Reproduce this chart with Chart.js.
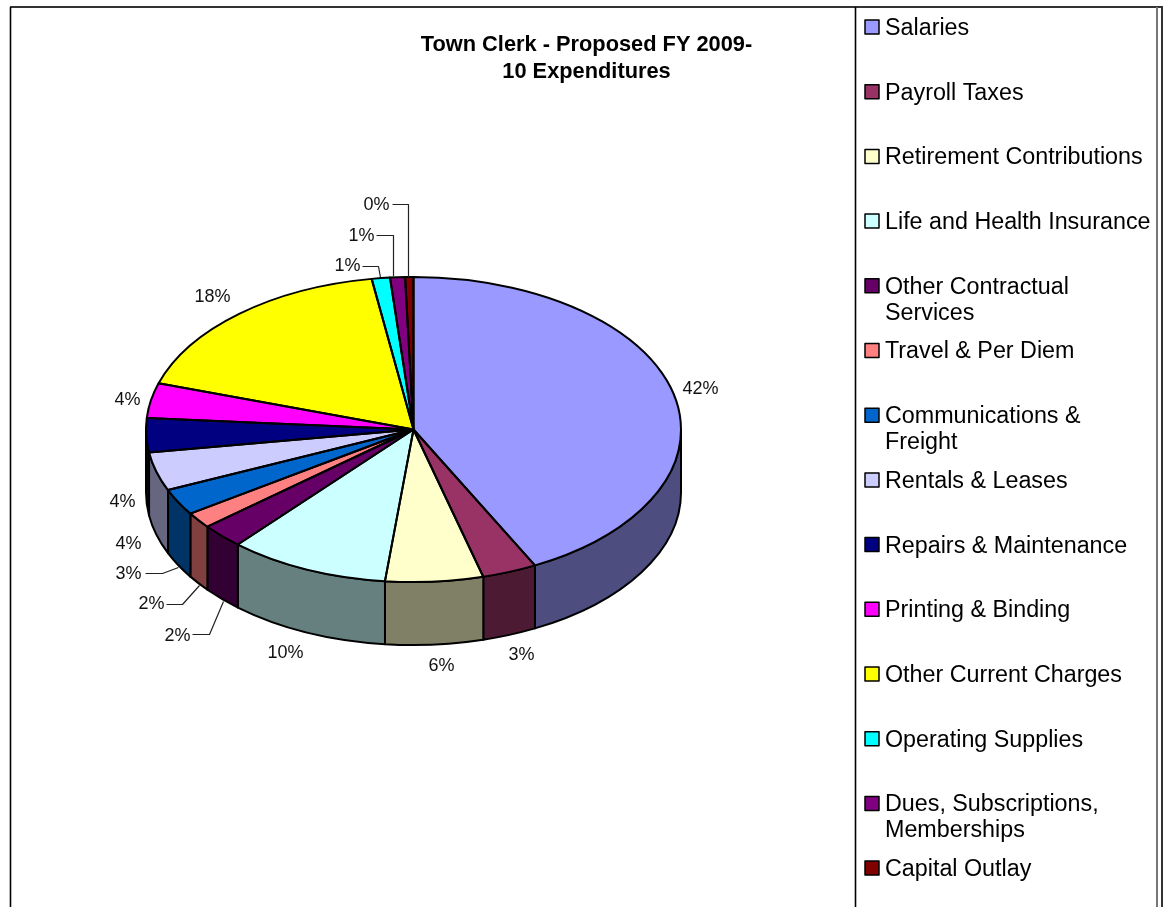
<!DOCTYPE html>
<html>
<head>
<meta charset="utf-8">
<style>html,body{margin:0;padding:0;background:#fff;overflow:hidden}canvas{display:block}</style>
<script src="https://cdn.jsdelivr.net/npm/chart.js@4"></script>
</head>
<body>
<canvas id="c" width="1170" height="907"></canvas>
<script>
// ---- data ----
const categories = [
  ["Salaries"], ["Payroll Taxes"], ["Retirement Contributions"], ["Life and Health Insurance"],
  ["Other Contractual", "Services"], ["Travel & Per Diem"], ["Communications &", "Freight"],
  ["Rentals & Leases"], ["Repairs & Maintenance"], ["Printing & Binding"], ["Other Current Charges"],
  ["Operating Supplies"], ["Dues, Subscriptions,", "Memberships"], ["Capital Outlay"]
];
const values = [42.5, 3.3, 5.9, 9.7, 2.6, 1.7, 2.8, 4.1, 3.6, 3.7, 17.6, 1.1, 0.9, 0.5];
const percentLabels = ["42%","3%","6%","10%","2%","2%","3%","4%","4%","4%","18%","1%","1%","0%"];
const titleLines = ["Town Clerk - Proposed FY 2009-", "10 Expenditures"];
const colors = ["#9999FF","#993366","#FFFFCC","#CCFFFF","#660066","#FF8080","#0066CC","#CCCCFF","#000080","#FF00FF","#FFFF00","#00FFFF","#800080","#800000"];

// ---- layout / style ----
const FONT = '"Liberation Sans", Arial, sans-serif';
const RX = 267.5, RY = 152.5, DEPTH = 63;
const labelPos = [[700.5,389.5],[521.5,655.5],[441.5,666.5],[285.5,653.5],[177.5,636.5],[151.5,604.5],[128.5,574.5],[128.5,544.5],[122.5,502.5],[127.5,400.5],[212.5,297.5],[347.5,266.5],[361.5,236.5],[376.5,205.5]];
const leaders = [
  [[192,634],[209,634],[223,601]],
  [[166,604],[182,604],[199,585]],
  [[145,573],[162,573],[178,567]],
  [[362,266],[378,266],[380,277]],
  [[376,235],[393,235],[393,276]],
  [[392,204],[408,204],[408,277]]
];
function darken(hex){
  const n = parseInt(hex.slice(1),16);
  const f = v => Math.round(v/2).toString(16).padStart(2,'0');
  return '#'+f(n>>16&255)+f(n>>8&255)+f(n&255);
}

const pie3d = {
  id:'pie3d',
  afterLayout(chart){
    // centre the title over the whole canvas, not only over the padded plot area
    chart.titleBlock.left = 2; chart.titleBlock.right = 1171;
  },
  beforeDraw(chart){
    const c = chart.ctx;
    c.save();
    c.strokeStyle='#333'; c.lineWidth=2;
    c.beginPath(); c.moveTo(10,7); c.lineTo(1163,7); c.stroke();
    c.strokeStyle='#000'; c.lineWidth=1.6;
    c.beginPath(); c.moveTo(10.5,7); c.lineTo(10.5,907);
    c.moveTo(855.5,7); c.lineTo(855.5,907); c.stroke();
    c.strokeStyle='#777'; c.lineWidth=2;
    c.beginPath(); c.moveTo(1157,7); c.lineTo(1157,907); c.stroke();
    c.strokeStyle='#333'; c.lineWidth=2;
    c.beginPath(); c.moveTo(1162,7); c.lineTo(1162,907); c.stroke();
    c.restore();
  },
  beforeDatasetsDraw(chart){
    const c = chart.ctx, arcs = chart.getDatasetMeta(0).data;
    const cx = arcs[0].x, cy = arcs[0].y, rx = arcs[0].outerRadius, ry = rx*RY/RX;
    c.save();
    c.lineWidth = 2; c.strokeStyle = '#000'; c.lineJoin='round';
    arcs.forEach((a,i)=>{
      const lo = Math.max(a.startAngle,0), hi = Math.min(a.endAngle,Math.PI);
      if(lo>=hi) return;
      c.beginPath();
      c.ellipse(cx,cy,rx,ry,0,lo,hi);
      c.ellipse(cx,cy+DEPTH,rx,ry,0,hi,lo,true);
      c.closePath();
      c.fillStyle = darken(colors[i]);
      c.fill(); c.stroke();
    });
    c.restore();
    c.save();
    c.translate(cx,cy); c.scale(1,ry/rx); c.translate(-cx,-cy);
  },
  afterDatasetsDraw(chart){
    const c = chart.ctx, arcs = chart.getDatasetMeta(0).data;
    c.restore();
    const cx = arcs[0].x, cy = arcs[0].y, rx = arcs[0].outerRadius, ry = rx*RY/RX;
    c.save();
    c.lineWidth = 2; c.strokeStyle='#000'; c.lineJoin='round';
    arcs.forEach(a=>{
      c.beginPath(); c.moveTo(cx,cy);
      c.ellipse(cx,cy,rx,ry,0,a.startAngle,a.endAngle);
      c.closePath(); c.stroke();
    });
    // leader lines
    c.lineWidth = 1.2; c.strokeStyle='#222';
    leaders.forEach(p=>{
      c.beginPath();
      p.forEach((q,j)=> j? c.lineTo(q[0]+.5,q[1]+.5):c.moveTo(q[0]+.5,q[1]+.5));
      c.stroke();
    });
    // percentage labels
    c.fillStyle='#111'; c.font='18px '+FONT; c.textAlign='center'; c.textBaseline='middle';
    percentLabels.forEach((t,i)=>c.fillText(t,labelPos[i][0],labelPos[i][1]));
    // legend
    c.textAlign='left'; c.font='23.3px '+FONT;
    categories.forEach((lines,i)=>{
      const y = 27 + 64.7*i;
      c.fillStyle = colors[i];
      c.fillRect(865,y-7,14,14);
      c.lineWidth=1.5; c.strokeStyle='#000';
      c.strokeRect(865,y-7,14,14);
      c.fillStyle='#000';
      lines.forEach((t,j)=>c.fillText(t,885,y+1.5+j*26));
    });
    c.restore();
  }
};

new Chart(document.getElementById('c'),{
  type:'pie',
  data:{labels:categories.map(l=>l.join(' ')),datasets:[{data:values,backgroundColor:colors,borderWidth:0}]},
  plugins:[pie3d],
  options:{
    responsive:false,animation:false,
    layout:{padding:{left:146,right:489,top:0,bottom:210}},
    plugins:{
      legend:{display:false},
      tooltip:{enabled:false},
      title:{display:true,text:titleLines,color:'#000',
        font:{family:FONT,size:21.8,weight:'bold',lineHeight:27/21.8},
        padding:{top:31,bottom:77}}
    }
  }
});
</script>
</body>
</html>
